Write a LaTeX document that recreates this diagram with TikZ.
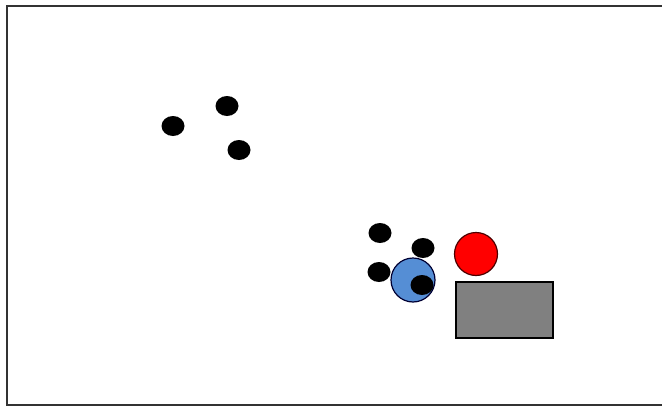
\documentclass[tikz,border=0pt]{standalone}
\definecolor{myblue}{RGB}{85,142,213}
\definecolor{mygray}{RGB}{128,128,128}
\tikzset{
  dot/.style={fill=black, draw=none},
  frameline/.style={draw=black!80, line width=1.6pt},
}
\begin{document}
\begin{tikzpicture}[x=1pt,y=-1pt]
\useasboundingbox (0,0) rectangle (662,407);
\coordinate (f1) at (662,6);
\coordinate (f2) at (7,6);
\coordinate (f3) at (7,405);
\coordinate (f4) at (662,405);
\draw[frameline] (f1) -- (f2) -- (f3) -- (f4);
% top-left group
\fill[dot] (173,126) ellipse [x radius=11.5, y radius=10];
\fill[dot] (227,106) ellipse [x radius=11.5, y radius=10];
\fill[dot] (239,150) ellipse [x radius=11.5, y radius=10];
% lower group
\fill[dot] (380,233) ellipse [x radius=11.5, y radius=10];
\fill[dot] (423,248) ellipse [x radius=11.5, y radius=10];
\fill[dot] (379,272) ellipse [x radius=11.5, y radius=10];
\draw[fill=myblue, draw=black!80!blue, line width=1.2pt] (413,280) circle [radius=22];
\fill[dot] (422,285) ellipse [x radius=11.5, y radius=10];
\draw[fill=red, draw=black!70!red, line width=1.2pt] (476,254) circle [radius=21.5];
\draw[fill=mygray, draw=black, line width=1.4pt] (456,282) rectangle (553,338);
\end{tikzpicture}
\end{document}
